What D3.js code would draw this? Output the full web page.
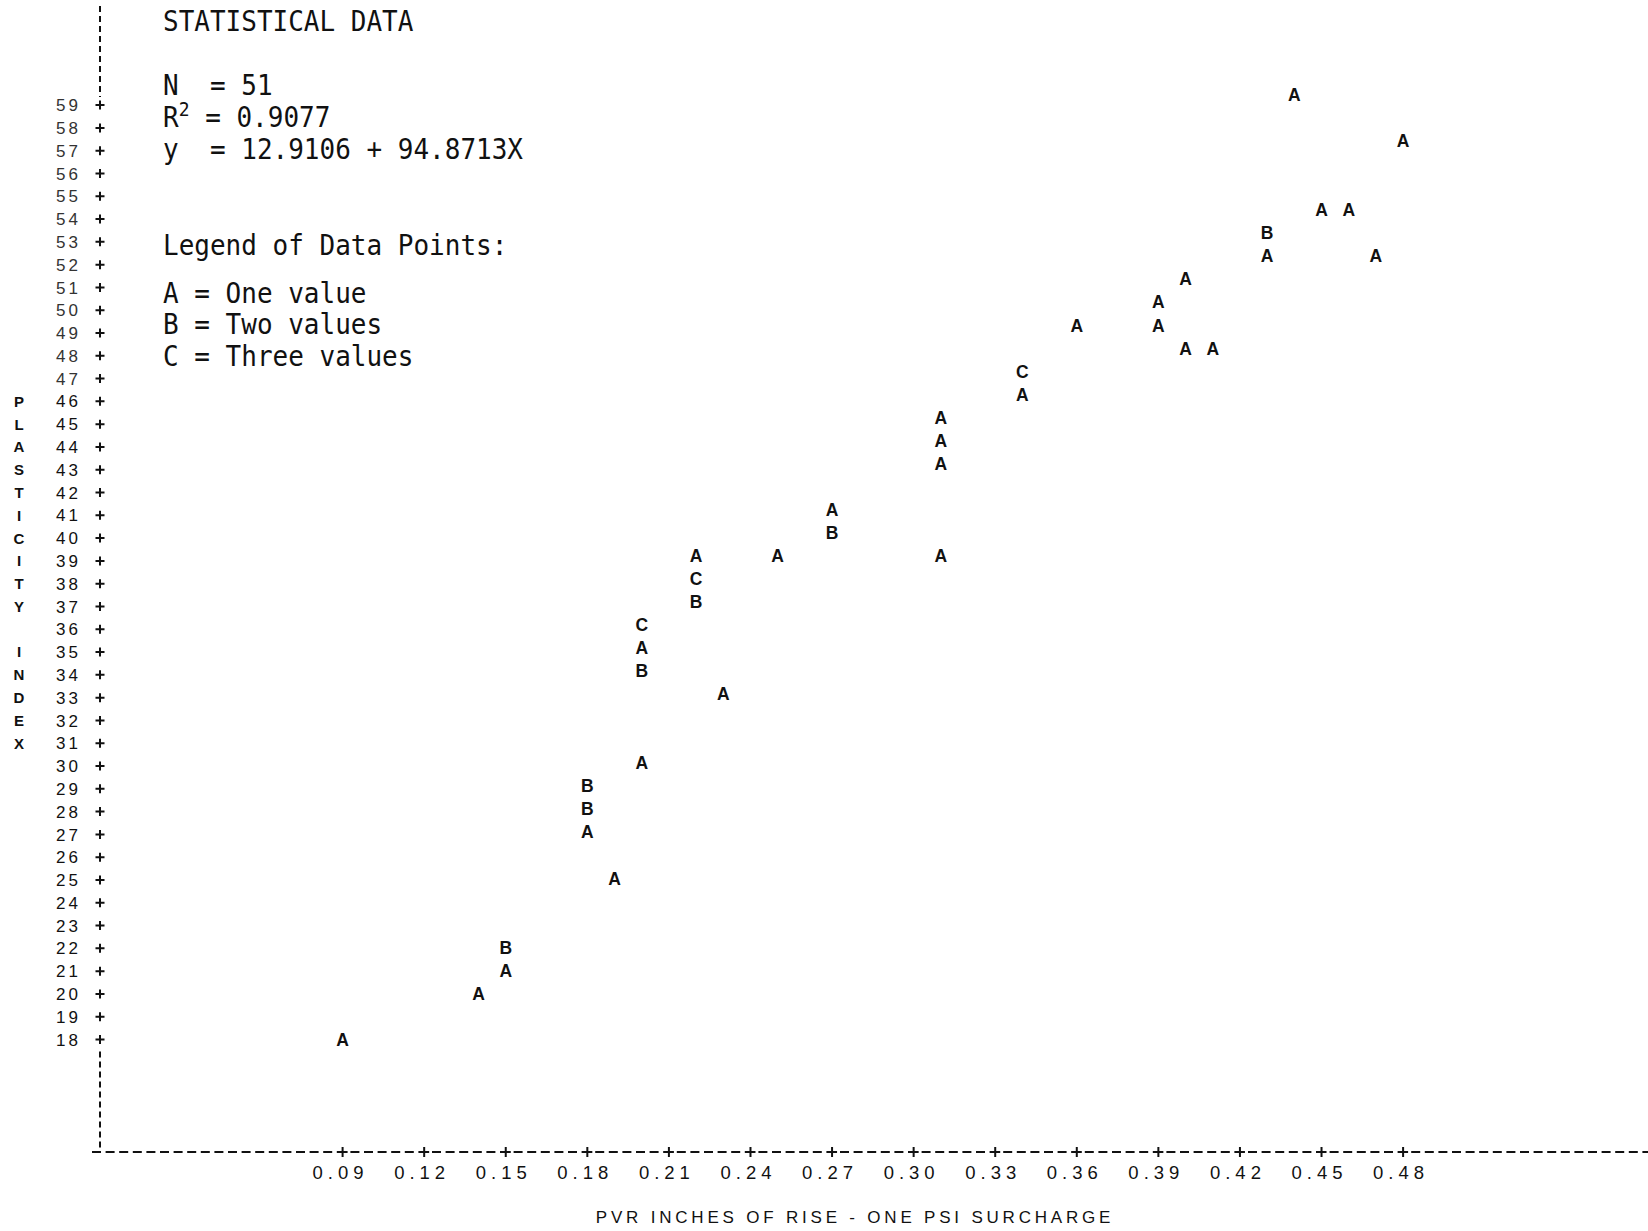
<!DOCTYPE html>
<html>
<head>
<meta charset="utf-8">
<script src="https://cdn.jsdelivr.net/npm/d3@7"></script>
<style>
  html, body { margin: 0; padding: 0; background: #fff; }
  svg { display: block; }
</style>
</head>
<body>
<svg id="chart" width="1648" height="1231"></svg>
<script>
// Plasticity index against PVR rise: printer-plot style scatter.
// Each plotted letter marks how many observations share the cell.
const pvr = [0.09, 0.14, 0.15, 0.15, 0.19, 0.18, 0.18, 0.18, 0.20, 0.23,
             0.20, 0.20, 0.20, 0.22, 0.22, 0.22, 0.25, 0.27, 0.27, 0.31,
             0.31, 0.31, 0.31, 0.34, 0.34, 0.36, 0.39, 0.39, 0.40, 0.40,
             0.41, 0.43, 0.43, 0.45, 0.46, 0.47, 0.44, 0.48];
const plasticity = [18, 20, 21, 22, 25, 27, 28, 29, 30, 33,
                    34, 35, 36, 37, 38, 39, 39, 40, 41, 39,
                    43, 44, 45, 46, 47, 49, 49, 50, 51, 48,
                    48, 52, 53, 54, 54, 52, 59, 57];
const counts = [1, 1, 1, 2, 1, 1, 2, 2, 1, 1,
                2, 1, 3, 2, 3, 1, 1, 2, 1, 1,
                1, 1, 1, 1, 3, 1, 1, 1, 1, 1,
                1, 1, 2, 1, 1, 1, 1, 1];
const symbols = ["A", "B", "C"];

const xTickValues = [0.09, 0.12, 0.15, 0.18, 0.21, 0.24, 0.27, 0.30, 0.33, 0.36, 0.39, 0.42, 0.45, 0.48];
const yTickValues = d3.range(18, 60);
const yTitle = ["P", "L", "A", "S", "T", "I", "C", "I", "T", "Y", "", "I", "N", "D", "E", "X"];
const yTitleRows = d3.range(46, 30, -1);
const xTitle = "PVR INCHES OF RISE - ONE PSI SURCHARGE";

const statLines = [
  { parts: [["STATISTICAL DATA"]] },
  { parts: [["N  = 51"]] },
  { parts: [["R"], ["2", "sup"], [" = 0.9077"]] },
  { parts: [["y  = 12.9106 + 94.8713X"]] },
  { parts: [["Legend of Data Points:"]] },
  { parts: [["A = One value"]] },
  { parts: [["B = Two values"]] },
  { parts: [["C = Three values"]] }
];
const statBaselines = [31, 95, 127, 159, 255, 303, 334, 366];

const svg = d3.select("#chart");

// scales
const x = d3.scaleLinear().domain([0.09, 0.48]).range([342.6, 1403.1]);
const yRow = d3.scaleLinear().domain([18, 59]).range([1039.5, 105.1]);
// printed characters run on a slightly taller pitch than the tick rows
const yPlot = d3.scaleLinear().domain([18, 59]).range([1039.5, 94.8]);

const axisX = 100;
const axisY = 1152;
const ink = "#111";

// vertical axis: dashed stubs above and below, "+" at each row
svg.append("line")
  .attr("x1", axisX).attr("x2", axisX)
  .attr("y1", 6).attr("y2", yRow(59) - 8)
  .attr("stroke", ink).attr("stroke-width", 2)
  .attr("stroke-dasharray", "6,4");
svg.append("line")
  .attr("x1", axisX).attr("x2", axisX)
  .attr("y1", yRow(18) + 12).attr("y2", axisY - 4)
  .attr("stroke", ink).attr("stroke-width", 2)
  .attr("stroke-dasharray", "6,4");

const yTicks = svg.append("g");
yTicks.selectAll("path")
  .data(yTickValues)
  .join("path")
  .attr("d", d => `M${axisX - 4.5},${yRow(d)}h9M${axisX},${yRow(d) - 4.5}v9`)
  .attr("stroke", ink).attr("stroke-width", 2);
yTicks.selectAll("text")
  .data(yTickValues)
  .join("text")
  .attr("x", 81)
  .attr("y", d => yRow(d))
  .attr("dy", "0.36em")
  .attr("text-anchor", "end")
  .attr("font-family", "Liberation Sans, Arial, sans-serif")
  .attr("font-size", 17)
  .attr("letter-spacing", 3)
  .attr("fill", d => d >= 47 ? "#333" : ink)
  .text(d => d);

// vertical title
svg.append("g").selectAll("text")
  .data(yTitle)
  .join("text")
  .attr("x", 19)
  .attr("y", (d, i) => yRow(yTitleRows[i]))
  .attr("dy", "0.36em")
  .attr("text-anchor", "middle")
  .attr("font-family", "Liberation Sans, Arial, sans-serif")
  .attr("font-weight", "bold")
  .attr("font-size", 15)
  .attr("fill", ink)
  .text(d => d);

// horizontal axis: dashed rule with "+" at each tick
svg.append("line")
  .attr("x1", 92).attr("x2", 1648)
  .attr("y1", axisY).attr("y2", axisY)
  .attr("stroke", ink).attr("stroke-width", 2.2)
  .attr("stroke-dasharray", "9,4.6");
const xTicks = svg.append("g");
xTicks.selectAll("path")
  .data(xTickValues)
  .join("path")
  .attr("d", d => `M${x(d) - 5},${axisY}h10M${x(d)},${axisY - 5}v10`)
  .attr("stroke", ink).attr("stroke-width", 2);
xTicks.selectAll("text")
  .data(xTickValues)
  .join("text")
  .attr("x", d => x(d) - 2)
  .attr("y", 1172)
  .attr("dy", "0.36em")
  .attr("text-anchor", "middle")
  .attr("font-family", "Liberation Sans, Arial, sans-serif")
  .attr("font-size", 18.5)
  .attr("letter-spacing", 5)
  .attr("fill", ink)
  .text(d3.format(".2f"));

svg.append("text")
  .attr("x", 855)
  .attr("y", 1217)
  .attr("dy", "0.36em")
  .attr("text-anchor", "middle")
  .attr("font-family", "Liberation Sans, Arial, sans-serif")
  .attr("font-size", 17)
  .attr("letter-spacing", 3.8)
  .attr("fill", ink)
  .text(xTitle);

// plotted characters
const points = pvr.map((v, i) => ({ x: v, y: plasticity[i], n: counts[i] }));
svg.append("g").selectAll("text")
  .data(points)
  .join("text")
  .attr("x", d => x(d.x))
  .attr("y", d => yPlot(d.y))
  .attr("dy", "0.36em")
  .attr("text-anchor", "middle")
  .attr("font-family", "Liberation Sans, Arial, sans-serif")
  .attr("font-weight", "bold")
  .attr("font-size", 17.5)
  .attr("fill", ink)
  .text(d => symbols[d.n - 1]);

// statistics block
const stats = svg.append("g");
statLines.forEach((line, i) => {
  const t = stats.append("text")
    .attr("transform", `translate(163,${statBaselines[i]}) scale(1,1.1)`)
    .attr("font-family", "DejaVu Sans Mono, monospace")
    .attr("font-size", 26)
    .attr("fill", ink)
    .attr("xml:space", "preserve")
    .style("white-space", "pre");
  line.parts.forEach(([s, kind]) => {
    const ts = t.append("tspan").text(s);
    if (kind === "sup") ts.attr("font-size", 18).attr("dy", -10);
    else if (line.parts.length > 1 && s.startsWith(" ")) ts.attr("dy", 10);
  });
});
</script>
</body>
</html>
